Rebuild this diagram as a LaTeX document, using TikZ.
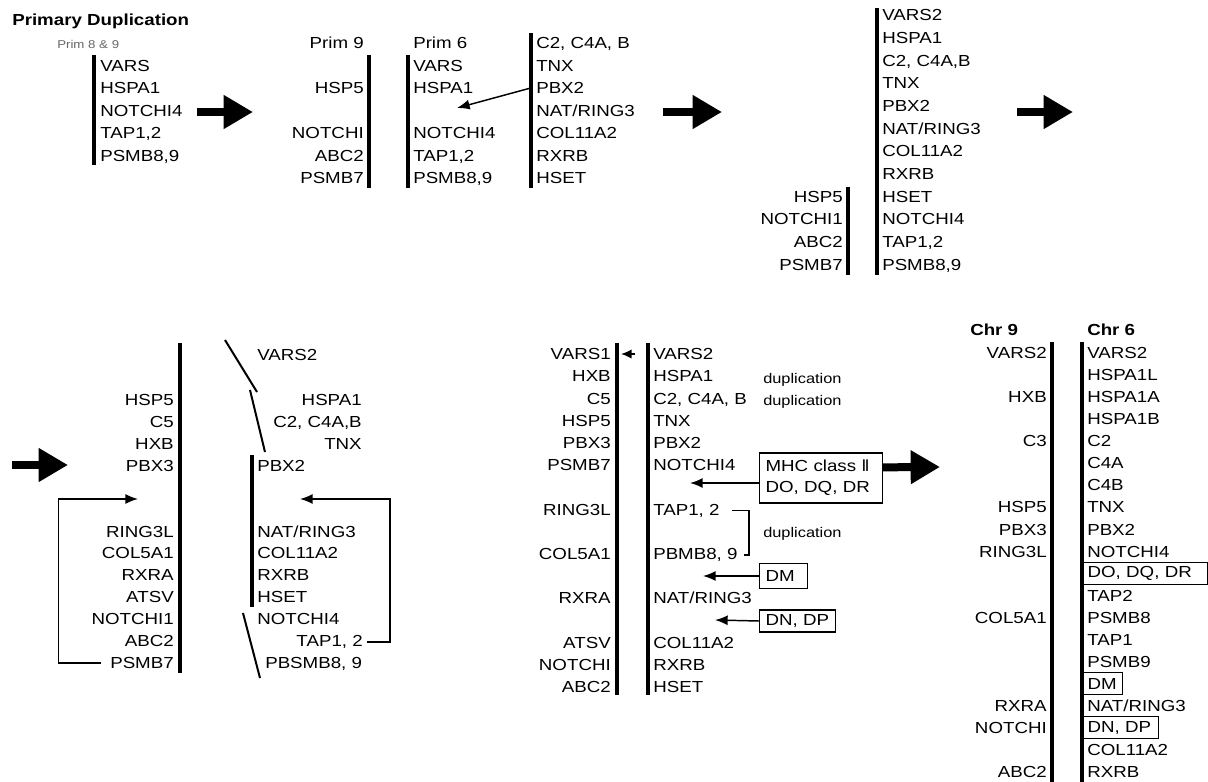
\documentclass[tikz,border=0pt]{standalone}
\usepackage{fontspec}
\setmainfont{Liberation Sans}[FakeStretch=1.17]
\newfontfamily\numfont{DejaVu Sans}
\usepackage{tikz}
\usetikzlibrary{arrows.meta,positioning}
\newcommand\lblfont{\fontsize{12}{15.75}\selectfont}
\newcommand\tinyfont{\fontsize{8.5}{10}\selectfont}
\newcommand\dupfont{\fontsize{10.5}{12}\selectfont}

\begin{document}
\begin{tikzpicture}[
      x=0.75pt, y=-0.75pt,
      lab/.style={anchor=base west, inner sep=0pt, yshift=-4.2pt, font=\lblfont},
      labr/.style={lab, anchor=base east},
      ttl/.style={lab, font=\lblfont\bfseries},
      tinylab/.style={lab, font=\tinyfont, text=black!60},
      dup/.style={lab, font=\dupfont},
      gbox/.style={draw, line width=0.9pt, anchor=west, align=left,
                   inner xsep=4.5pt, inner ysep=0pt, font=\lblfont},
      chr/.style={line width=2.6pt},
      seg/.style={line width=1.5pt},
      thinl/.style={line width=1.1pt},
      arr/.style={thinl, -{Latex[length=9.5pt, width=7.5pt]}},
      bigarr/.style={line width=6pt, -{Triangle[length=22pt, width=24pt]}}
    ]
    \useasboundingbox (0,0) rectangle (1208,782);

    % primary duplication
    \node[ttl] (title) at (12,20) {Primary Duplication};
    \node[tinylab] (p89) at (57,43) {Prim 8 \& 9};
    \draw[chr] (94,55) -- (94,165);
    \foreach \k/\t in {1/VARS,2/HSPA1,3/NOTCHI4,4/{TAP1,2},5/{PSMB8,9}}
      \node[lab] (pa\k) at (100,{43+22.5*\k}) {\t};
    \coordinate (a1s) at (197,112);
    \coordinate (a1e) at (253,112);
    \draw[bigarr] (a1s) -- (a1e);

    % prim 9 / prim 6
    \node[labr] (prim9) at (364,43) {Prim 9};
    \node[lab] (prim6) at (413,43) {Prim 6};
    \draw[chr] (369,55) -- (369,188);
    \draw[chr] (408,55) -- (408,188);
    \draw[chr] (531,33) -- (531,188);
    \foreach \k/\t in {2/HSP5,4/NOTCHI,5/ABC2,6/PSMB7}
      \node[labr] (pb\k) at (364,{43+22.5*\k}) {\t};
    \foreach \k/\t in {1/VARS,2/HSPA1,4/NOTCHI4,5/{TAP1,2},6/{PSMB8,9}}
      \node[lab] (pc\k) at (413,{43+22.5*\k}) {\t};
    \foreach \k/\t in {0/{C2, C4A, B},1/TNX,2/PBX2,3/{NAT/RING3},4/COL11A2,5/RXRB,6/HSET}
      \node[lab] (pd\k) at (536,{43+22.5*\k}) {\t};
    \coordinate (hit) at (457,108);
    \draw[arr] ([xshift=-4pt]pd2.west) -- (hit);
    \coordinate (a2s) at (663,112);
    \coordinate (a2e) at (722,112);
    \draw[bigarr] (a2s) -- (a2e);

    % joined chromosome
    \draw[chr] (877,8) -- (877,275);
    \draw[chr] (848,187) -- (848,275);
    \foreach \t [count=\k from 0] in {VARS2,HSPA1,{C2, C4A,B},TNX,PBX2,{NAT/RING3},COL11A2,RXRB,HSET,NOTCHI4,{TAP1,2},{PSMB8,9}}
      \node[lab] (pe\k) at (882,{15+22.7*\k}) {\t};
    \foreach \k/\t in {8/HSP5,9/NOTCHI1,10/ABC2,11/PSMB7}
      \node[labr] (pf\k) at (843,{15+22.7*\k}) {\t};
    \coordinate (a3s) at (1017,112);
    \coordinate (a3e) at (1073,112);
    \draw[bigarr] (a3s) -- (a3e);

    % rearrangement
    \coordinate (a4s) at (12,465);
    \coordinate (a4e) at (68,465);
    \draw[bigarr] (a4s) -- (a4e);
    \draw[chr] (180,343) -- (180,673);
    \foreach \k/\t in {0/HSP5,1/C5,2/HXB,3/PBX3,6/RING3L,7/COL5A1,8/RXRA,9/ATSV,10/NOTCHI1,11/ABC2,12/PSMB7}
      \node[labr] (ra\k) at (174,{400+21.9*\k}) {\t};
    \draw[seg] (225,340) -- (257,392);
    \draw[seg] (250,390) -- (265,452);
    \draw[chr] (252,455) -- (252,607);
    \draw[seg] (243,613) -- (260,678);
    \node[lab] (rvars) at (257,355) {VARS2};
    \foreach \k/\t in {0/HSPA1,1/{C2, C4A,B},2/TNX}
      \node[labr] (rt\k) at (362,{400+21.9*\k}) {\t};
    \foreach \k/\t in {3/PBX2,6/{NAT/RING3},7/COL11A2,8/RXRB,9/HSET,10/NOTCHI4}
      \node[lab] (rb\k) at (257,{400+21.9*\k}) {\t};
    \node[labr] (rtap) at (363,641) {TAP1, 2};
    \node[lab] (rpsmb) at (265,663) {PBSMB8, 9};
    \coordinate (tipl) at (138,499);
    \coordinate (tipr) at (300,499);
    \draw[arr] ([xshift=-7pt]ra12.west) -- ++(-42,0) |- (tipl);
    \draw[arr] ([xshift=3pt]rtap.east) -- ++(23,0) |- (tipr);

    % class II insertion
    \draw[chr] (617,343) -- (617,695);
    \draw[chr] (648,343) -- (648,695);
    \foreach \k/\t in {0/VARS1,1/HXB,2/C5,3/HSP5,4/PBX3,5/PSMB7,7/RING3L,9/COL5A1,11/RXRA,13/ATSV,14/NOTCHI,15/ABC2}
      \node[labr] (sl\k) at (611,{354+22.2*\k}) {\t};
    \foreach \k/\t in {0/VARS2,1/HSPA1,2/{C2, C4A, B},3/TNX,4/PBX2,5/NOTCHI4,7/{TAP1, 2},9/{PBMB8, 9},11/{NAT/RING3},13/COL11A2,14/RXRB,15/HSET}
      \node[lab] (sr\k) at (653,{354+22.2*\k}) {\t};
    \coordinate (vtail) at (635,354);
    \coordinate (vtip) at (621,354);
    \draw[thinl, -{Latex[length=8pt, width=7pt]}] (vtail) -- (vtip);
    \node[dup] (dup1) at (763,378) {duplication};
    \node[dup] (dup2) at (763,400) {duplication};
    \node[dup] (dup3) at (763,532) {duplication};
    \draw[thinl] ([xshift=9pt]sr7.east) -- ++(17,0) |- ([xshift=4.5pt]sr9.east);
    \node[gbox, text width=83pt, minimum height=37.5pt] (mhc) at (759,478)
      {MHC class {\numfont Ⅱ}\\DO, DQ, DR};
    \node[gbox, text width=27pt, minimum height=18.75pt] (dm5) at (759,576) {DM};
    \node[gbox, text width=48pt, minimum height=16.5pt] (dn5) at (759,621) {DN, DP};
    \coordinate (t1) at (690,483);
    \coordinate (t2) at (703,576);
    \coordinate (t3) at (715,620);
    \draw[arr] ([yshift=-3.75pt]mhc.west) -- (t1);
    \draw[arr] (dm5.west) -- (t2);
    \draw[arr] (dn5.west) -- (t3);
    \coordinate (a5e) at (940,467);
    \draw[bigarr] ([yshift=8pt]mhc.east) -- (a5e);

    % present chromosomes
    \node[ttl] (chr9) at (970,330) {Chr 9};
    \node[ttl] (chr6) at (1087,330) {Chr 6};
    \draw[chr] (1052,342) -- (1052,790);
    \draw[chr] (1082,342) -- (1082,790);
    \foreach \k/\t in {0/VARS2,2/HXB,4/C3,7/HSP5,8/PBX3,9/RING3L,12/COL5A1,16/RXRA,17/NOTCHI,19/ABC2}
      \node[labr] (c9\k) at (1047,{353+22.05*\k}) {\t};
    \foreach \k/\t in {0/VARS2,1/HSPA1L,2/HSPA1A,3/HSPA1B,4/C2,5/C4A,6/C4B,7/TNX,8/PBX2,9/NOTCHI4,11/TAP2,12/PSMB8,13/TAP1,14/PSMB9,16/{NAT/RING3},18/COL11A2,19/RXRB}
      \node[lab] (c6\k) at (1087,{353+22.05*\k}) {\t};
    \node[gbox, inner xsep=3pt, text width=87pt, minimum height=16.5pt] (c6do) at (1083,{353+22.05*10}) {DO, DQ, DR};
    \node[gbox, inner xsep=3pt, text width=23.25pt, minimum height=16.5pt] (c6dm) at (1083,{353+22.05*15}) {DM};
    \node[gbox, inner xsep=3pt, text width=50.25pt, minimum height=16.5pt] (c6dn) at (1083,{353+22.05*17}) {DN, DP};
  \end{tikzpicture}
\end{document}
